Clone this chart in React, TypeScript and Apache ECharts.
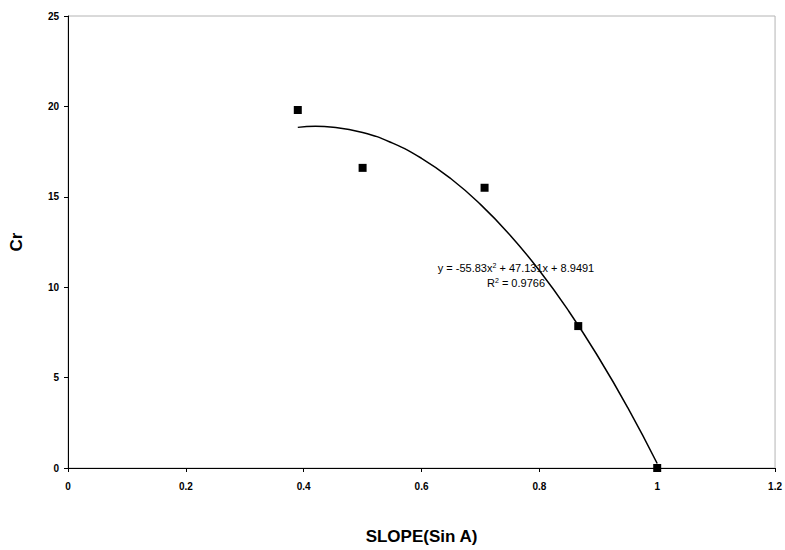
import React, { useEffect, useRef } from "react";
import * as echarts from "echarts";

const sinA = [0.39, 0.5, 0.707, 0.866, 1.0];
const crValues = [19.8, 16.6, 15.5, 7.85, 0];

// trendline points
const trendX = [0.39, 0.42, 0.45, 0.5, 0.55, 0.6, 0.65, 0.7, 0.75, 0.8, 0.85, 0.9, 0.95, 1.0];
const trendY = [18.84, 18.9, 18.85, 18.56, 17.98, 17.13, 16.0, 14.58, 12.89, 10.92, 8.67, 6.14, 3.34, 0.25];

const equationText = "y = -55.83x{sup|2} + 47.131x + 8.9491";
const r2Text = "R{sup|2} = 0.9766";

const FONT = "'Liberation Sans', Arial, sans-serif";

export default function App() {
  const ref = useRef<HTMLDivElement>(null);
  useEffect(() => {
    document.body.style.margin = "0";
    if (!ref.current) return;
    const chart = echarts.init(ref.current, null, { renderer: "svg" });
    chart.setOption({
      animation: false,
      backgroundColor: "#fff",
      grid: {
        left: 67,
        right: 7,
        top: 16,
        bottom: 80,
        show: true,
        borderColor: "#b4b4b4",
        borderWidth: 1,
      },
      xAxis: {
        type: "value",
        min: 0,
        max: 1.2,
        interval: 0.2,
        name: "SLOPE(Sin A)",
        nameLocation: "middle",
        nameGap: 60,
        nameTextStyle: { fontFamily: FONT, fontWeight: "bold", fontSize: 17, color: "#000" },
        axisLine: { show: true, onZero: false, lineStyle: { color: "#000", width: 1 } },
        axisTick: { show: true, length: 4, lineStyle: { color: "#000" } },
        axisLabel: {
          fontFamily: FONT,
          fontWeight: "bold",
          fontSize: 10,
          color: "#000",
          margin: 13,
          formatter: (v: number) => String(Math.round(v * 10) / 10),
        },
        splitLine: { show: false },
      },
      yAxis: {
        type: "value",
        min: 0,
        max: 25,
        interval: 5,
        name: "Cr",
        nameLocation: "middle",
        nameGap: 43,
        nameRotate: 90,
        nameTextStyle: { fontFamily: FONT, fontWeight: "bold", fontSize: 17, color: "#000" },
        axisLine: { show: true, onZero: false, lineStyle: { color: "#000", width: 1 } },
        axisTick: { show: true, length: 4, lineStyle: { color: "#000" } },
        axisLabel: {
          fontFamily: FONT,
          fontWeight: "bold",
          fontSize: 10,
          color: "#000",
          margin: 9,
        },
        splitLine: { show: false },
      },
      series: [
        {
          type: "line",
          data: trendX.map((x, i) => [x, trendY[i]]),
          smooth: true,
          showSymbol: false,
          symbol: "none",
          lineStyle: { color: "#000", width: 1.5 },
          z: 2,
        },
        {
          type: "scatter",
          data: sinA.map((x, i) => [x, crValues[i]]),
          symbol: "rect",
          symbolSize: 8,
          itemStyle: { color: "#000", opacity: 1 },
          z: 3,
        },
      ],
      graphic: [
        {
          type: "text",
          x: 516,
          y: 268,
          style: {
            text: equationText,
            fontFamily: FONT,
            fontSize: 11,
            fill: "#000",
            align: "center",
            verticalAlign: "middle",
            rich: {
              sup: { fontSize: 7, verticalAlign: "top", padding: [0, 0, 6, 0], fontFamily: FONT, fill: "#000" },
            },
          },
          z: 10,
        },
        {
          type: "text",
          x: 516,
          y: 283,
          style: {
            text: r2Text,
            fontFamily: FONT,
            fontSize: 11,
            fill: "#000",
            align: "center",
            verticalAlign: "middle",
            rich: {
              sup: { fontSize: 7, verticalAlign: "top", padding: [0, 0, 6, 0], fontFamily: FONT, fill: "#000" },
            },
          },
          z: 10,
        },
      ],
    });
    return () => chart.dispose();
  }, []);
  return <div ref={ref} style={{ width: 785, height: 550 }} />;
}
